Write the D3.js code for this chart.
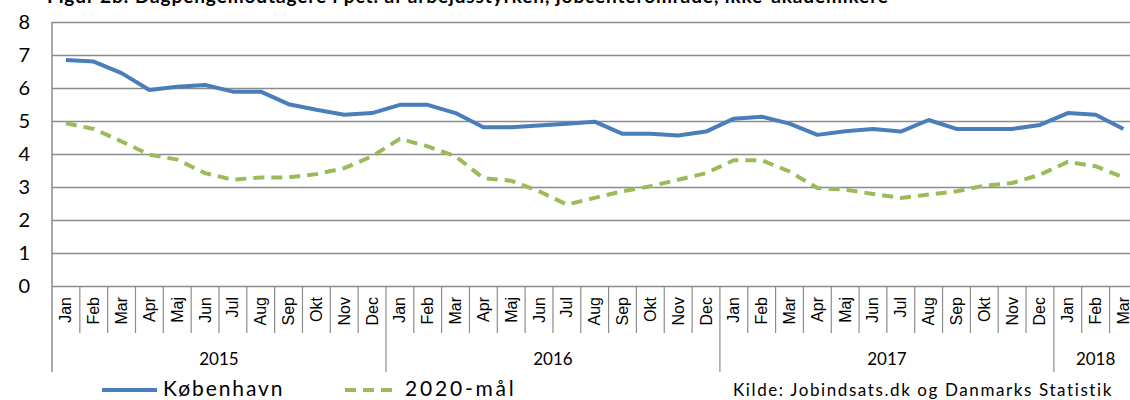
<!DOCTYPE html>
<html>
<head>
<meta charset="utf-8">
<script src="https://cdn.jsdelivr.net/npm/d3@7"></script>
<style>
  body { margin: 0; background: #fff; }
  svg { display: block; }
  .grid line { stroke: #8c8c8c; stroke-width: 1.5; }
  .grid .domain { display: none; }
</style>
</head>
<body>
<div id="chart"></div>
<script>
// data
var years = ["2015", "2016", "2017", "2018"];
var monthNames = ["Jan", "Feb", "Mar", "Apr", "Maj", "Jun", "Jul", "Aug", "Sep", "Okt", "Nov", "Dec"];
var monthsPerYear = [12, 12, 12, 3];
var koebenhavn = [6.85, 6.80, 6.45, 5.94, 6.04, 6.09, 5.89, 5.89, 5.51, 5.34, 5.19, 5.24,
                  5.49, 5.49, 5.24, 4.81, 4.81, 4.86, 4.92, 4.98, 4.61, 4.61, 4.56, 4.68,
                  5.07, 5.13, 4.92, 4.58, 4.69, 4.76, 4.68, 5.03, 4.76, 4.76, 4.76, 4.88,
                  5.24, 5.19, 4.76];
var maal2020 = [4.93, 4.76, 4.38, 3.98, 3.83, 3.42, 3.22, 3.29, 3.29, 3.39, 3.57, 3.93,
                4.46, 4.23, 3.93, 3.27, 3.19, 2.87, 2.47, 2.67, 2.87, 3.02, 3.22, 3.42,
                3.81, 3.81, 3.47, 2.97, 2.92, 2.79, 2.67, 2.77, 2.87, 3.04, 3.12, 3.37,
                3.76, 3.63, 3.29];
var yTicks = [0, 1, 2, 3, 4, 5, 6, 7, 8];
var title = "Figur 2b: Dagpengemodtagere i pct. af arbejdsstyrken, jobcenterområde, ikke-akademikere";
var source = "Kilde: Jobindsats.dk og Danmarks Statistik";

// build month list
var months = [];
years.forEach((yr, i) => {
  for (var m = 0; m < monthsPerYear[i]; m++) {
    months.push({ key: yr + "-" + m, label: monthNames[m], year: yr });
  }
});

var width = 1130, height = 400;
var plotLeft = 52, plotTop = 22, plotBottom = 286;
var step = 27.83;

var svg = d3.select("#chart").append("svg")
  .attr("width", width).attr("height", height);

var x = d3.scaleBand()
  .domain(months.map(d => d.key))
  .range([plotLeft, plotLeft + months.length * step])
  .padding(0);

var y = d3.scaleLinear().domain([0, 8]).range([plotBottom, plotTop]);

// title, mostly cut off at the top
svg.append("text")
  .attr("x", 47).attr("y", 3)
  .attr("font-family", "Lato, sans-serif")
  .attr("font-weight", "bold")
  .attr("font-size", 19)
  .attr("letter-spacing", 0.9)
  .text(title);

// gridlines
svg.append("g")
  .attr("class", "grid")
  .attr("transform", `translate(${plotLeft},0)`)
  .call(d3.axisLeft(y).tickValues(yTicks).tickSize(-(x.range()[1] - plotLeft)).tickFormat(""));

// y labels
svg.append("g").selectAll("text")
  .data(yTicks)
  .enter().append("text")
  .attr("x", 30)
  .attr("y", d => y(d) + 7)
  .attr("text-anchor", "end")
  .attr("font-family", "Lato, sans-serif")
  .attr("font-size", 20)
  .attr("fill", "#000")
  .text(d => d);

// left axis line down through the category area
svg.append("line")
  .attr("x1", plotLeft).attr("x2", plotLeft)
  .attr("y1", plotTop).attr("y2", 372)
  .attr("stroke", "#8c8c8c").attr("stroke-width", 1.5);

// month separators
var cats = svg.append("g");
cats.selectAll(".msep")
  .data(months.slice(1))
  .enter().append("line")
  .attr("x1", d => x(d.key)).attr("x2", d => x(d.key))
  .attr("y1", plotBottom)
  .attr("y2", d => d.label === "Jan" ? 372 : 333)
  .attr("stroke", "#8c8c8c").attr("stroke-width", 1.2);

// month labels
cats.selectAll(".mlab")
  .data(months)
  .enter().append("text")
  .attr("transform", d => `translate(${x(d.key) + x.bandwidth() / 2 + 5.5},297) rotate(-90)`)
  .attr("text-anchor", "end")
  .attr("font-family", "Liberation Sans, Arial, sans-serif")
  .attr("font-size", 16)
  .text(d => d.label);

// year labels
cats.selectAll(".ylab")
  .data(years)
  .enter().append("text")
  .attr("x", d => {
    var ms = months.filter(m => m.year === d);
    return (x(ms[0].key) + x(ms[ms.length - 1].key) + x.bandwidth()) / 2;
  })
  .attr("y", 365)
  .attr("text-anchor", "middle")
  .attr("font-family", "Lato, sans-serif")
  .attr("font-size", 17)
  .text(d => d);

// lines
var line = d3.line()
  .x((d, i) => x(months[i].key) + x.bandwidth() / 2)
  .y(d => y(d));

svg.append("path")
  .datum(maal2020)
  .attr("d", line)
  .attr("fill", "none")
  .attr("stroke", "#9bbb59")
  .attr("stroke-width", 4)
  .attr("stroke-dasharray", "11,7");

svg.append("path")
  .datum(koebenhavn)
  .attr("d", line)
  .attr("fill", "none")
  .attr("stroke", "#4a7ebb")
  .attr("stroke-width", 4)
  .attr("stroke-linejoin", "round");

// legend
var legend = svg.append("g");
legend.append("line")
  .attr("x1", 102).attr("x2", 157).attr("y1", 390).attr("y2", 390)
  .attr("stroke", "#4a7ebb").attr("stroke-width", 4);
legend.append("text")
  .attr("x", 163).attr("y", 396)
  .attr("font-family", "Lato, sans-serif").attr("font-size", 21)
  .attr("letter-spacing", 1.9)
  .text("København");
legend.append("line")
  .attr("x1", 345).attr("x2", 396).attr("y1", 390).attr("y2", 390)
  .attr("stroke", "#9bbb59").attr("stroke-width", 4)
  .attr("stroke-dasharray", "11,7");
legend.append("text")
  .attr("x", 405).attr("y", 396)
  .attr("font-family", "Lato, sans-serif").attr("font-size", 21)
  .attr("letter-spacing", 2.8)
  .text("2020-mål");

svg.append("text")
  .attr("x", 733).attr("y", 396)
  .attr("font-family", "Lato, sans-serif").attr("font-size", 17)
  .attr("letter-spacing", 1.6)
  .text(source);
</script>
</body>
</html>
